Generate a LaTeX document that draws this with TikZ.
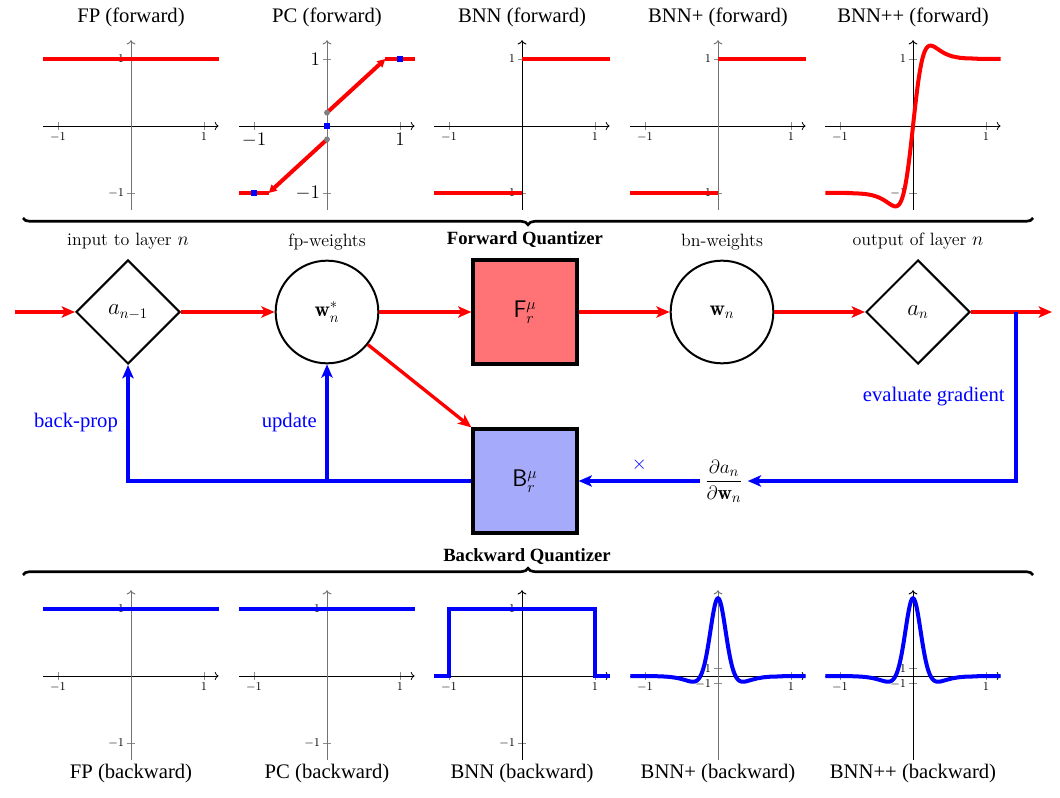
\documentclass[tikz,border=0pt]{standalone}
\usepackage{amsmath,amssymb}
\usepackage{fontspec}
\usepackage{tikz}
\usetikzlibrary{arrows.meta,shapes.geometric,decorations.pathreplacing,positioning,calc}
\newfontfamily\timesrm{Liberation Serif}
\definecolor{fwdred}{RGB}{255,115,118}
\definecolor{bwdblue}{RGB}{166,170,250}
\tikzset{
    plotframe/.style 2 args={shift={(#1,#2)}, yscale=-1, x=54.75pt, y=50.25pt},
    plottitle/.style={font=\timesrm\fontsize{15.5}{18}\selectfont},
    ticklabel/.style={font=\fontsize{#1}{#1}\selectfont, inner sep=1pt},
    tickmark/.style={black!45, line width=0.6pt},
    fwdcurve/.style={red, line width=3pt},
    bwdcurve/.style={blue, line width=3pt},
}
\tikzset{
    statediamond/.style={diamond, draw, line width=1.5pt, minimum size=78pt, inner sep=0pt, font=\fontsize{16}{18}\selectfont},
    weightcircle/.style={circle, draw, line width=1.5pt, minimum size=77pt, inner sep=0pt, font=\fontsize{16}{18}\selectfont},
    quantbox/.style={rectangle, draw, line width=2.4pt, minimum size=78pt, inner sep=0pt, font=\fontsize{18}{20}\selectfont},
    toplabel/.style={font=\fontsize{13.4}{16}\selectfont, text height=9pt, text depth=3pt, inner sep=0pt},
    redarrow/.style={red, line width=2.5pt, -{Stealth[length=10pt,width=8.5pt,inset=2.5pt]}},
    bluearrow/.style={blue, line width=2.5pt, -{Stealth[length=10pt,width=8.5pt,inset=2.5pt]}},
    bluelabel/.style={blue, font=\timesrm\fontsize{15.5}{18}\selectfont},
    bracestyle/.style={decorate, decoration={brace, amplitude=5pt}, line width=2pt},
    declare function={
        sg(\t)=1/(1+exp(-\t));
        sgsw(\x)=2*sg(10*\x)*(1+10*\x*(1-sg(10*\x)))-1;
        dsgsw(\x)=20*sg(10*\x)*(1-sg(10*\x))*(2+10*\x*(1-2*sg(10*\x)));
    },
}

\begin{document}
\begin{tikzpicture}[x=0.75pt,y=0.75pt,yscale=-1,xscale=1]
\useasboundingbox (0,0) rectangle (1060,798);
%Plot axes
\foreach \cx/\cy/\ycol/\ty/\ts in {131/126/black!55/1/9, 327/126/black!55/1/13.6, 522/126/black/1/9, 718/126/black!55/1/9, 913/126/black/1/9, 131/676/black!55/1/9, 327/676/black!55/1/9, 522/676/black/1/9, 718/676/black!55/0.116/9, 913/676/black/0.116/9}{
  \begin{scope}[plotframe={\cx}{\cy}]
    \draw[tickmark] (-1,-0.06) -- (-1,0.06) (1,-0.06) -- (1,0.06);
    \draw[tickmark] (-0.055,-\ty) -- (0.055,-\ty) (-0.055,\ty) -- (0.055,\ty);
    \draw[line width=0.6pt, -To] (-1.2,0) -- (1.2,0);
    \draw[\ycol, line width=0.7pt, -To] (0,-1.25) -- (0,1.28);
    \node[ticklabel=\ts, below=4pt] (xm-\cx-\cy) at (-1,0) {$-1$};
    \node[ticklabel=\ts, below=4pt] (xp-\cx-\cy) at (1,0) {$1$};
    \node[ticklabel=\ts, left=4pt] (yp-\cx-\cy) at (0,\ty) {$1$};
    \node[ticklabel=\ts, left=4pt] (ym-\cx-\cy) at (0,-\ty) {$-1$};
  \end{scope}
}
%Plot titles
\foreach \cx/\qname in {131/FP, 327/PC, 522/BNN, 718/BNN+, 913/BNN++}{
  \node[plottitle] (ft-\cx) at (\cx,17) {\qname{} (forward)};
  \node[plottitle] (bt-\cx) at (\cx,774) {\qname{} (backward)};
}
%Forward curves
\begin{scope}[plotframe={131}{126}]
  \draw[fwdcurve] (-1.2,1) -- (1.2,1);
\end{scope}
\begin{scope}[plotframe={327}{126}]
  \draw[fwdcurve] (-1.2,-1) -- (-0.8,-1);
  \draw[fwdcurve] (0.8,1) -- (1.2,1);
  \draw[fwdcurve, -{Triangle[length=6pt,width=6pt]}] (0,-0.2) -- (-0.8,-1);
  \draw[fwdcurve, -{Triangle[length=6pt,width=6pt]}] (0,0.2) -- (0.8,1);
  \fill[black!50] (0,0.2) circle (2.2pt) (0,-0.2) circle (2.2pt);
  \fill[blue] (-1,-1) ++(-2.5pt,-2.5pt) rectangle ++(5pt,5pt);
  \fill[blue] (0,0) ++(-2.5pt,-2.5pt) rectangle ++(5pt,5pt);
  \fill[blue] (1,1) ++(-2.5pt,-2.5pt) rectangle ++(5pt,5pt);
\end{scope}
\foreach \cx in {522,718}{
  \begin{scope}[plotframe={\cx}{126}]
    \draw[fwdcurve] (-1.2,-1) -- (0,-1);
    \draw[fwdcurve] (0,1) -- (1.2,1);
  \end{scope}
}
\begin{scope}[plotframe={913}{126}]
  \draw[fwdcurve] (-1.2,-1) -- (-0.9,-1) -- plot[domain=-0.9:0.9, samples=181] (\x,{sgsw(\x)}) -- (1.2,1);
\end{scope}
%Backward curves
\foreach \cx in {131,327}{
  \begin{scope}[plotframe={\cx}{676}]
    \draw[bwdcurve] (-1.2,1) -- (1.2,1);
  \end{scope}
}
\begin{scope}[plotframe={522}{676}]
  \draw[bwdcurve] (-1.2,0) -- (-1,0) -- (-1,1) -- (1,1) -- (1,0) -- (1.2,0);
\end{scope}
\foreach \cx in {718,913}{
  \begin{scope}[plotframe={\cx}{676}]
    \draw[bwdcurve] (-1.2,0) -- (-0.9,0) -- plot[domain=-0.9:0.9, samples=181] (\x,{0.116*dsgsw(\x)}) -- (1.2,0);
  \end{scope}
}
%Braces
\coordinate (fbraceL) at (23,218);
\coordinate (fbraceR) at (1033,218);
\coordinate (bbraceL) at (23,575);
\coordinate (bbraceR) at (1033,575);
\draw[bracestyle] (fbraceR) -- (fbraceL);
\draw[bracestyle] (bbraceL) -- (bbraceR);
\node[font=\timesrm\bfseries\fontsize{14}{16}\selectfont] (bqlbl) at (527,557) {Backward Quantizer};
%Layer nodes
\node[statediamond] (ain) at (128,312) {$a_{n-1}$};
\node[weightcircle] (wfp) at (327,312) {$\mathbf{w}_n^*$};
\node[quantbox, fill=fwdred] (fq) at (525,312) {$\mathsf{F}_r^\mu$};
\node[weightcircle] (wbn) at (722,312) {$\mathbf{w}_n$};
\node[statediamond] (aout) at (918,312) {$a_n$};
\node[quantbox, fill=bwdblue] (bq) at (525,481) {$\mathsf{B}_r^\mu$};
\node[font=\fontsize{15}{18}\selectfont] (grad) at (724,481) {$\displaystyle\frac{\partial a_n}{\partial\mathbf{w}_n}$};
\node[toplabel, above=7pt of ain] (ainlbl) {input to layer $n$};
\node[toplabel, above=7pt of wfp] (wfplbl) {fp-weights};
\node[toplabel, font=\timesrm\bfseries\fontsize{14}{16}\selectfont, above=7pt of fq] (fqlbl) {Forward Quantizer};
\node[toplabel, above=7pt of wbn] (wbnlbl) {bn-weights};
\node[toplabel, above=7pt of aout] (aoutlbl) {output of layer $n$};
\coordinate (inL) at (15,312);
\coordinate (outR) at (1052,312);
\coordinate (tap) at (1016,312);
\coordinate (updfoot) at (wfp |- bq);
%Forward pass
\draw[redarrow] (inL) -- (ain);
\draw[redarrow] (ain) -- (wfp);
\draw[redarrow] (wfp) -- (fq);
\draw[redarrow] (fq) -- (wbn);
\draw[redarrow] (wbn) -- (aout);
\draw[redarrow] (aout) -- (outR);
\draw[redarrow] (wfp) -- (bq.north west);
%Backward pass
\draw[bluearrow] (tap) |- (grad) node[bluelabel, pos=0.25, left=4pt] (evlbl) {evaluate gradient};
\draw[bluearrow] (grad) -- (bq) node[bluelabel, midway, above=3pt] (timeslbl) {$\times$};
\draw[bluearrow] (bq) -| (ain) node[bluelabel, pos=0.75, left=3pt] (bplbl) {back-prop};
\draw[bluearrow] (updfoot) -- (wfp) node[bluelabel, midway, left=3pt] (updlbl) {update};
\end{tikzpicture}
\end{document}
